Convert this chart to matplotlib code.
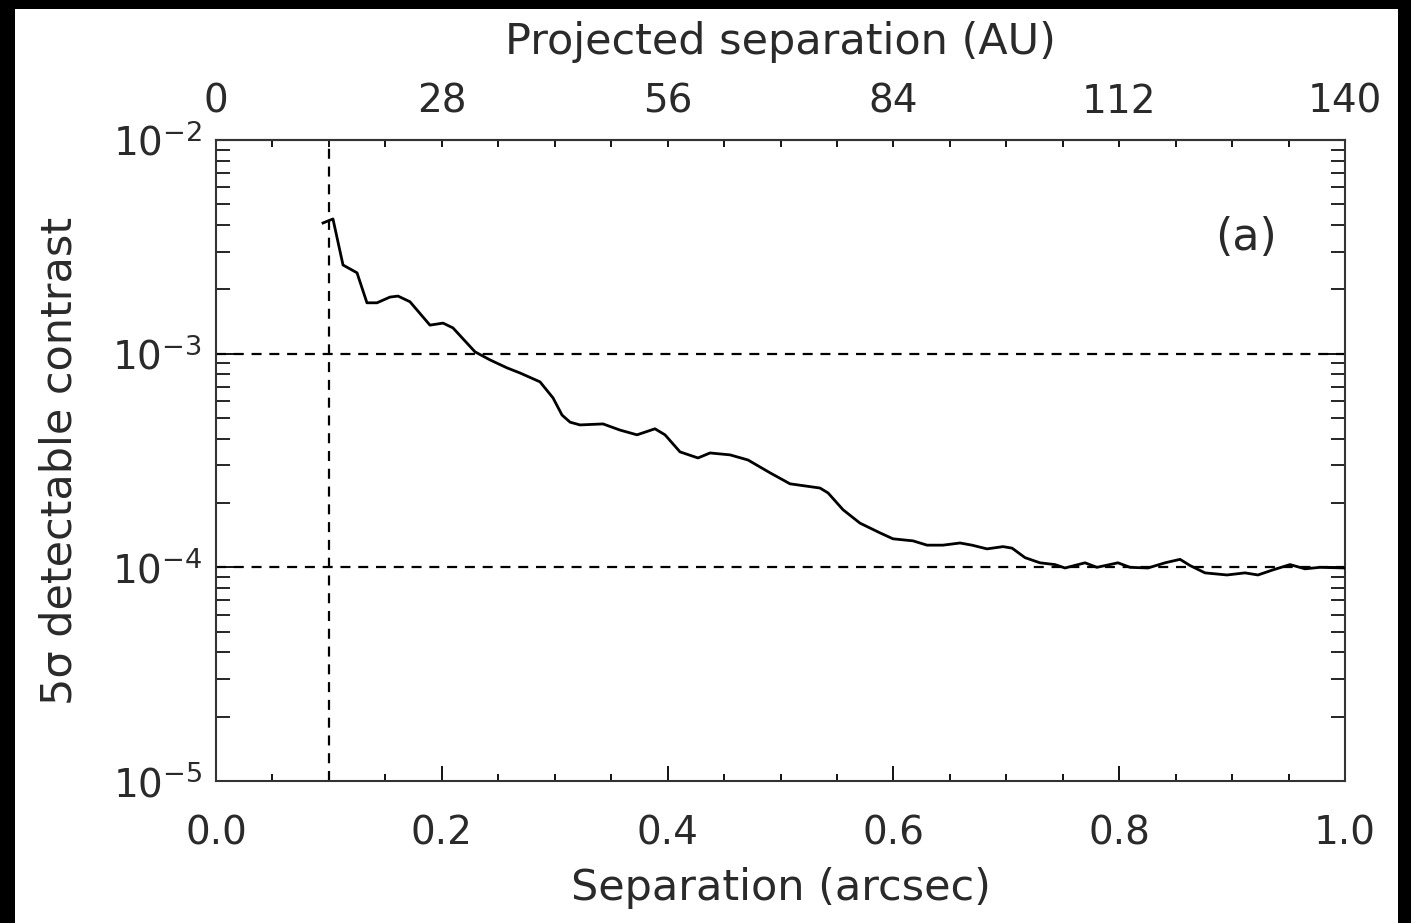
import matplotlib
matplotlib.use("Agg")
import matplotlib.pyplot as plt
from matplotlib.patches import Rectangle
from matplotlib.ticker import FixedLocator, LogLocator, NullFormatter, FixedFormatter

sep_arcsec = [0.0948, 0.1036, 0.1125, 0.1249, 0.1337, 0.1426, 0.1541, 0.1612, 0.1718, 0.1895,
              0.2011, 0.2099, 0.2294, 0.2427, 0.2578, 0.2693, 0.2870, 0.2985, 0.3065, 0.3136,
              0.3224,
              0.3428, 0.3578, 0.3729, 0.3888, 0.3977, 0.4110, 0.4269, 0.4376, 0.4553, 0.4712,
              0.4907, 0.5084, 0.5350, 0.5421, 0.5554, 0.5704, 0.5881, 0.5996, 0.6174, 0.6298,
              0.6439, 0.6590, 0.6696, 0.6829, 0.6971, 0.7051, 0.7166, 0.7298, 0.7431, 0.7520,
              0.7697, 0.7803, 0.7989, 0.8096, 0.8255, 0.8406, 0.8539, 0.8627, 0.8760, 0.8955,
              0.9114, 0.9229, 0.9362, 0.9513, 0.9646, 0.9779, 1.0]
contrast = [4.09e-3, 4.27e-3, 2.60e-3, 2.39e-3, 1.73e-3, 1.73e-3, 1.84e-3, 1.86e-3, 1.75e-3, 1.36e-3,
            1.39e-3, 1.32e-3, 1.02e-3, 9.35e-4, 8.58e-4, 8.12e-4, 7.38e-4, 6.21e-4, 5.16e-4, 4.78e-4,
            4.64e-4,
            4.69e-4, 4.39e-4, 4.17e-4, 4.45e-4, 4.17e-4, 3.47e-4, 3.25e-4, 3.43e-4, 3.36e-4, 3.18e-4,
            2.77e-4, 2.46e-4, 2.35e-4, 2.23e-4, 1.86e-4, 1.61e-4, 1.45e-4, 1.36e-4, 1.33e-4, 1.27e-4,
            1.27e-4, 1.30e-4, 1.27e-4, 1.22e-4, 1.25e-4, 1.23e-4, 1.11e-4, 1.05e-4, 1.03e-4, 9.93e-5,
            1.05e-4, 1.00e-4, 1.05e-4, 1.00e-4, 9.93e-5, 1.05e-4, 1.09e-4, 1.02e-4, 9.42e-5, 9.21e-5,
            9.42e-5, 9.21e-5, 9.73e-5, 1.03e-4, 9.84e-5, 1.00e-4, 9.93e-5]

x_ticks = [0.0, 0.2, 0.4, 0.6, 0.8, 1.0]
x_ticklabels = ["0.0", "0.2", "0.4", "0.6", "0.8", "1.0"]
au_ticks = [0, 28, 56, 84, 112, 140]
au_per_arcsec = 140
y_ticks = [1e-5, 1e-4, 1e-3, 1e-2]
y_ticklabels = [r"$10^{-5}$", r"$10^{-4}$", r"$10^{-3}$", r"$10^{-2}$"]
hlines = [1e-3, 1e-4]
vline = 0.1

plt.rcParams['font.family'] = ['DejaVu Sans']
plt.rcParams['mathtext.fontset'] = 'dejavusans'
txtc = '#2a2a2a'
fs_tick = 28
fs_lab = 31

W, H = 1411, 923
fig = plt.figure(figsize=(W / 100, H / 100), dpi=100)
fig.patch.set_facecolor('white')
for (x0, y0, w, h) in [(0, 0, 15, H), (1398, 0, W - 1398, H), (0, H - 9, W, 9)]:
    fig.patches.append(Rectangle((x0 / W, y0 / H), w / W, h / H,
                                 transform=fig.transFigure, facecolor='black',
                                 edgecolor='none'))

L, R, T, B = 216, 1345, 140, 781
ax = fig.add_axes([L / W, 1 - B / H, (R - L) / W, (B - T) / H])
ax.set_facecolor('white')
ax.set_xlim(0, 1.0)
ax.set_yscale('log')
ax.set_ylim(1e-5, 1e-2)

ax.plot(sep_arcsec, contrast, color='black', lw=2.0, zorder=3)
for h in hlines:
    ax.axhline(h, color='black', lw=1.6, dashes=(4.5, 3.5), zorder=2)
ax.axvline(vline, color='black', lw=1.6, dashes=(4.5, 3.5), zorder=2)

for s in ax.spines.values():
    s.set_linewidth(1.5)
    s.set_color('#333333')

ax.xaxis.set_major_locator(FixedLocator(x_ticks))
ax.xaxis.set_major_formatter(FixedFormatter(x_ticklabels))
ax.xaxis.set_minor_locator(FixedLocator([i * 0.05 for i in range(21)]))
ax.yaxis.set_major_locator(FixedLocator(y_ticks))
ax.yaxis.set_major_formatter(FixedFormatter(y_ticklabels))
ax.yaxis.set_minor_locator(LogLocator(base=10, subs=range(2, 10)))
ax.yaxis.set_minor_formatter(NullFormatter())

ax.tick_params(axis='x', which='major', direction='in', length=11, width=1.3,
               labelsize=fs_tick, labelcolor=txtc, pad=24, top=False)
ax.tick_params(axis='x', which='minor', direction='in', length=5, width=1.3, top=False)
ax.tick_params(axis='y', which='major', direction='in', length=14, width=1.3,
               labelsize=fs_tick, labelcolor=txtc, pad=10, right=True)
ax.tick_params(axis='y', which='minor', direction='in', length=10, width=1.2, right=True)

ax.set_xlabel("Separation (arcsec)", fontsize=fs_lab, color=txtc)
ax.xaxis.set_label_coords((L + R) / 2 / W, 1 - 888 / H, transform=fig.transFigure)
ax.xaxis.label.set_va('center')
ax.set_ylabel("5σ detectable contrast", fontsize=fs_lab, color=txtc)
ax.yaxis.set_label_coords(60 / W, 1 - (T + B) / 2 / H, transform=fig.transFigure)
ax.yaxis.label.set_va('center')
ax.yaxis.label.set_ha('center')

top = ax.secondary_xaxis('top', functions=(lambda x: x * au_per_arcsec,
                                           lambda a: a / au_per_arcsec))
top.xaxis.set_major_locator(FixedLocator(au_ticks))
top.xaxis.set_minor_locator(FixedLocator(list(range(0, 141, 7))))
top.tick_params(which='major', direction='in', length=5, width=1.3,
                labelsize=fs_tick, labelcolor=txtc, pad=14)
top.tick_params(which='minor', direction='in', length=5, width=1.3)
top.spines['top'].set_linewidth(1.5)
top.spines['top'].set_color('#333333')
top.set_xlabel("Projected separation (AU)", fontsize=fs_lab, color=txtc)
top.xaxis.set_label_coords(780 / W, 1 - 42 / H, transform=fig.transFigure)
top.xaxis.label.set_va('center')

ax.text((1246 - L) / (R - L), (B - 237) / (B - T), "(a)", transform=ax.transAxes,
        fontsize=32, color=txtc, ha='center', va='center')

fig.savefig("out.png", dpi=100, facecolor=fig.get_facecolor())
